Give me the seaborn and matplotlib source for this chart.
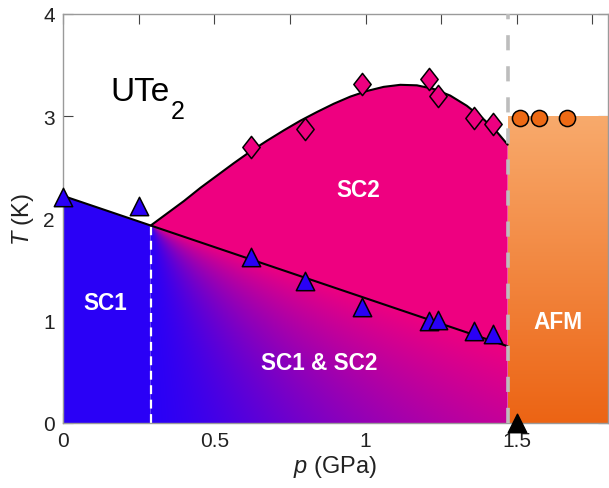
import numpy as np
import seaborn as sns
import matplotlib.pyplot as plt
from matplotlib.patches import Polygon
from matplotlib.path import Path
from matplotlib.colors import to_rgb

# --- values ---
# SC1 transition points (triangles)
sc1_p = [0.0, 0.25, 0.62, 0.80, 0.99, 1.21, 1.24, 1.36, 1.42]
sc1_T = [2.21, 2.12, 1.62, 1.385, 1.13, 1.00, 1.01, 0.90, 0.87]
# SC2 transition points (diamonds)
sc2_p = [0.62, 0.80, 0.99, 1.21, 1.24, 1.36, 1.42]
sc2_T = [2.70, 2.87, 3.31, 3.36, 3.20, 2.98, 2.92]
# AFM transition points (circles)
afm_p = [1.51, 1.575, 1.665]
afm_T = [2.98, 2.98, 2.98]
# critical pressure marker
pc_p = [1.50]
pc_T = [0.0]

# guide lines
sc1_line_p = [0.0, 0.29, 1.47]
sc1_line_T = [2.22, 1.93, 0.75]
sc2_curve_p = [0.29, 0.345, 0.40, 0.455, 0.51, 0.565, 0.62, 0.675, 0.73, 0.785,
               0.84, 0.895, 0.95, 1.005, 1.06, 1.115, 1.17, 1.225, 1.28, 1.335,
               1.39, 1.43, 1.47]
sc2_curve_T = [1.93, 2.05, 2.17, 2.30, 2.42, 2.54, 2.655, 2.76, 2.86, 2.955,
               3.04, 3.12, 3.19, 3.245, 3.285, 3.305, 3.30, 3.265, 3.20, 3.10,
               2.97, 2.86, 2.72]
p_split = 0.29     # SC1 | SC1 & SC2 boundary
p_afm = 1.47       # onset of AFM
T_afm = 3.0
p_max, T_max = 1.8, 4.0

x_ticks = [0, 0.25, 0.5, 0.75, 1.0, 1.25, 1.5, 1.75]
x_ticklabels = ["0", "", "0.5", "", "1", "", "1.5", ""]
y_ticks = [0, 1, 2, 3, 4]
y_ticklabels = ["0", "1", "2", "3", "4"]

BLUE = "#2a00f6"
MAGENTA = "#ee0080"
ORANGE_TOP = "#f8aa6c"
ORANGE_BOT = "#ec6414"
CIRCLE = "#ee6a14"

sns.set_theme(style="ticks")
plt.rcParams["font.family"] = ["Liberation Sans", "DejaVu Sans"]
plt.rcParams["mathtext.fontset"] = "custom"
plt.rcParams["mathtext.rm"] = "Liberation Sans"
plt.rcParams["mathtext.it"] = "Liberation Sans:italic"

fig = plt.figure(figsize=(6.09, 4.89), dpi=100)
ax = fig.add_axes([63 / 609, 65 / 489, 544.5 / 609, 409.3 / 489])

# SC1 region
ax.fill([0, 0, p_split, p_split], [0, sc1_line_T[0], sc1_line_T[1], 0],
        color=BLUE, lw=0, zorder=1)

# SC2 region between the SC1 line and the SC2 curve
ax.fill(sc2_curve_p + [sc1_line_p[2], sc1_line_p[1]],
        sc2_curve_T + [sc1_line_T[2], sc1_line_T[1]],
        color=MAGENTA, lw=0, zorder=1)

# SC1 & SC2 region: angular blue -> magenta shading fanned from the junction
px_per_p, px_per_T = 302.5, 102.5
gx = np.linspace(p_split, p_afm, 400)
gy = np.linspace(0, sc1_line_T[1], 300)
GX, GY = np.meshgrid(gx, gy)
theta = np.arctan2((GX - p_split) * px_per_p, (sc1_line_T[1] - GY) * px_per_T)
theta_line = np.arctan2((p_afm - p_split) * px_per_p,
                        (sc1_line_T[1] - sc1_line_T[2]) * px_per_T)
t = np.clip(theta / theta_line, 0, 1) ** 1.5
img = (1 - t)[..., None] * np.array(to_rgb(BLUE)) + t[..., None] * np.array(to_rgb(MAGENTA))
im = ax.imshow(img, extent=[p_split, p_afm, 0, sc1_line_T[1]], origin="lower",
               aspect="auto", interpolation="bilinear", zorder=1)
clip = Polygon([(p_split, 0), (p_split, sc1_line_T[1]), (p_afm, sc1_line_T[2]), (p_afm, 0)],
               closed=True, transform=ax.transData, facecolor="none", edgecolor="none")
ax.add_patch(clip)
im.set_clip_path(clip)

# AFM region, vertical orange gradient
s = np.linspace(0, 1, 200)[:, None, None]
afm_img = (1 - s) * np.array(to_rgb(ORANGE_BOT)) + s * np.array(to_rgb(ORANGE_TOP))
ax.imshow(afm_img, extent=[p_afm, p_max, 0, T_afm], origin="lower",
          aspect="auto", interpolation="bilinear", zorder=1)

# boundaries
ax.plot([p_split, p_split], [0, sc1_line_T[1]], color="white", lw=1.6,
        ls=(0, (4, 2.5)), zorder=2)
sns.lineplot(x=sc1_line_p, y=sc1_line_T, color="black", lw=1.5,
             estimator=None, sort=False, ax=ax, zorder=3)
sns.lineplot(x=sc2_curve_p, y=sc2_curve_T, color="black", lw=1.5,
             estimator=None, sort=False, ax=ax, zorder=3)
ax.axvline(p_afm, color="#bdbdbd", lw=2.6, ls=(0, (4.2, 4.4)), zorder=4)

# data points
diamond = Path([(0, 0.5), (0.39, 0), (0, -0.5), (-0.39, 0), (0, 0.5)],
               [Path.MOVETO, Path.LINETO, Path.LINETO, Path.LINETO, Path.CLOSEPOLY])
sns.scatterplot(x=sc2_p, y=sc2_T, marker=diamond, s=256, color=MAGENTA,
                edgecolor="black", linewidth=1.1, zorder=6, clip_on=False, ax=ax)
sns.scatterplot(x=sc1_p, y=sc1_T, marker="^", s=175, color=BLUE,
                edgecolor="black", linewidth=1.1, zorder=6, clip_on=False, ax=ax)
sns.scatterplot(x=afm_p, y=afm_T, marker="o", s=135, color=CIRCLE,
                edgecolor="black", linewidth=1.1, zorder=6, clip_on=False, ax=ax)
sns.scatterplot(x=pc_p, y=pc_T, marker="^", s=175, color="black",
                edgecolor="black", linewidth=1.1, zorder=7, clip_on=False, ax=ax)

# labels
ute = ax.text(0.155, 3.16, "UTe", fontsize=24, color="black", va="baseline", ha="left")
ax.annotate("2", xy=(1, 0), xycoords=ute, xytext=(1.5, -8), textcoords="offset points",
            fontsize=18, color="black", va="baseline", ha="left")
lab = dict(color="white", fontweight="bold", fontsize=16.3, ha="center", va="center", zorder=8)
ax.text(0.14, 1.18, "SC1", **lab)
ax.text(0.975, 2.28, "SC2", **lab)
ax.text(0.846, 0.595, "SC1 & SC2", **lab)
ax.text(1.635, 0.995, "AFM", **lab)

ax.set_xlim(0, p_max)
ax.set_ylim(0, T_max)
ax.set_xticks(x_ticks)
ax.set_xticklabels(x_ticklabels)
ax.set_yticks(y_ticks)
ax.set_yticklabels(y_ticklabels)
ax.tick_params(axis="both", direction="in", length=7, width=0.8, colors="#444444",
               labelcolor="#222222", labelsize=15, top=True, right=True)
ax.tick_params(axis="x", pad=6)
ax.tick_params(axis="y", pad=6)
ax.set_xlabel("$p$ (GPa)", fontsize=17, color="#222222", labelpad=2)
ax.set_ylabel("$T$ (K)", fontsize=17, color="#222222", labelpad=5)
for sp in ax.spines.values():
    sp.set_color("#9a9a9a")
    sp.set_linewidth(1.0)
ax.grid(False)

fig.savefig("out.png", dpi=100)
